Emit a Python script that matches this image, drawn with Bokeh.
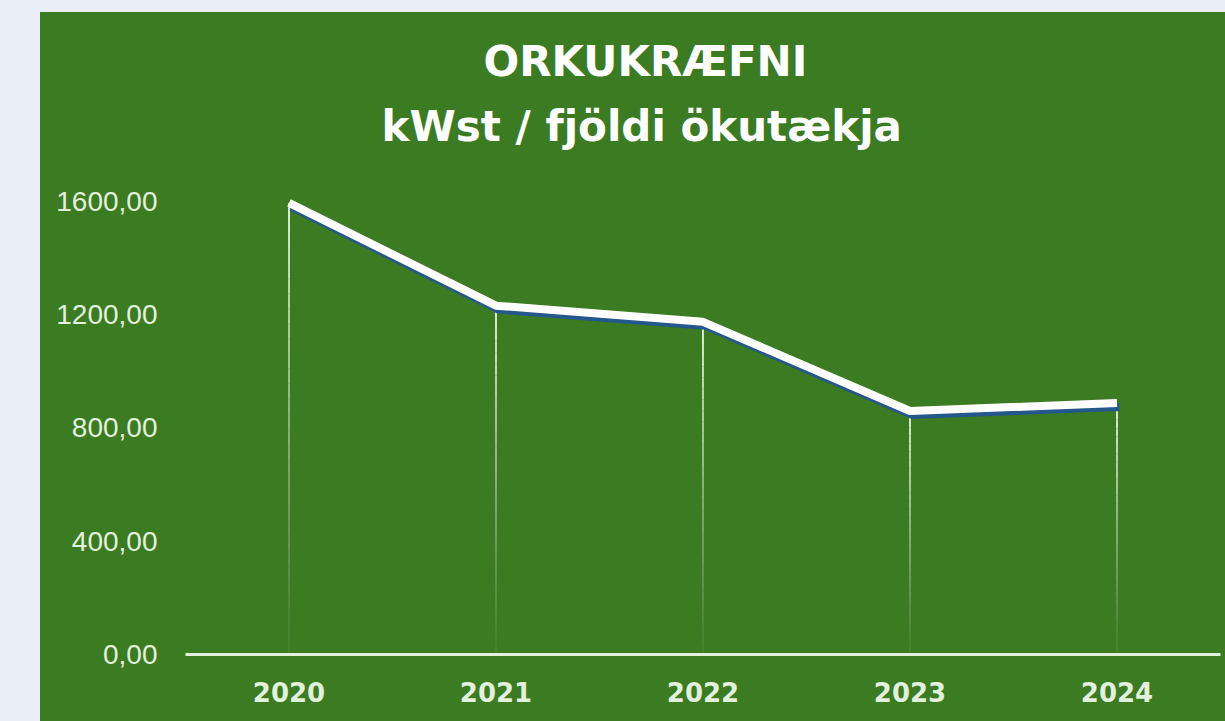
from bokeh.plotting import figure
from bokeh.models import Title, FixedTicker, ColumnDataSource, Range1d, FactorRange
from bokeh.transform import dodge
from bokeh.embed import file_html
from bokeh.resources import INLINE

# ---- data ----
years = ["2020", "2021", "2022", "2023", "2024"]
values = [1595, 1232, 1175, 860, 888]
y_ticks = [0, 400, 800, 1200, 1600]
y_tick_labels = ["0,00", "400,00", "800,00", "1200,00", "1600,00"]
title_line1 = "ORKUKRÆFNI"
title_line2 = "kWst / fjöldi ökutækja"

GREEN = "#3b7b22"
PAGE = "#e9edf6"
LABEL = "#e2f0dc"
SHADOW = "#25588a"

p = figure(
    x_range=FactorRange(*years),
    y_range=Range1d(0, 1720),
    width=1185, height=709,
    output_backend="svg", toolbar_location=None,
    min_border_left=145, min_border_right=5, min_border_bottom=67, min_border_top=155,
    background_fill_color=GREEN, border_fill_color=GREEN,
    outline_line_color=None,
    margin=(12, 0, 0, 40),
    styles={"background-color": GREEN},
)
p.xgrid.visible = False
p.ygrid.visible = False

# drop lines with fading alpha
N = 30
dx, dy0, dy1, da = [], [], [], []
for yr, v in zip(years, values):
    for k in range(N):
        dx.append(yr)
        dy0.append(v * k / N)
        dy1.append(v * (k + 1) / N)
        da.append(0.05 + 0.9 * ((k + 1) / N) ** 1.2)
drop = ColumnDataSource(dict(x=dx, y0=dy0, y1=dy1, a=da))
p.segment(x0="x", y0="y0", x1="x", y1="y1", source=drop,
          line_color=LABEL, line_width=2, line_alpha="a")

src = ColumnDataSource(dict(year=years, v=values, vs=[v - 14 for v in values]))
p.line(x=dodge("year", 0.012, range=p.x_range), y="vs", source=src,
       line_color=SHADOW, line_width=8, line_join="round")
p.line(x="year", y="v", source=src, line_color="white", line_width=8,
       line_join="round")

# axes
xa = p.xaxis[0]
xa.axis_line_color = LABEL
xa.axis_line_width = 3
xa.major_tick_line_color = None
xa.minor_tick_line_color = None
xa.major_label_text_color = LABEL
xa.major_label_text_font = "DejaVu Sans"
xa.major_label_text_font_style = "bold"
xa.major_label_text_font_size = "26px"
xa.major_label_standoff = 21

ya = p.yaxis[0]
ya.axis_line_color = None
ya.major_tick_line_color = None
ya.minor_tick_line_color = None
ya.ticker = FixedTicker(ticks=y_ticks)
ya.major_label_overrides = {t: s for t, s in zip(y_ticks, y_tick_labels)}
ya.major_label_text_color = LABEL
ya.major_label_text_font = "Liberation Sans"
ya.major_label_text_font_size = "28px"
ya.major_label_standoff = 22

t2 = Title(text=title_line2, align="left", offset=196, text_font="DejaVu Sans",
           text_font_style="bold", text_font_size="42px", text_color="white",
           standoff=34)
t1 = Title(text=title_line1, align="left", offset=298, text_font="DejaVu Sans",
           text_font_style="bold", text_font_size="42px", text_color="white",
           standoff=-7)
p.add_layout(t2, "above")
p.add_layout(t1, "above")

html = file_html(p, INLINE)
html = html.replace("<body>", '<body style="background-color:%s;">' % PAGE)
open("out.html", "w").write(html)
